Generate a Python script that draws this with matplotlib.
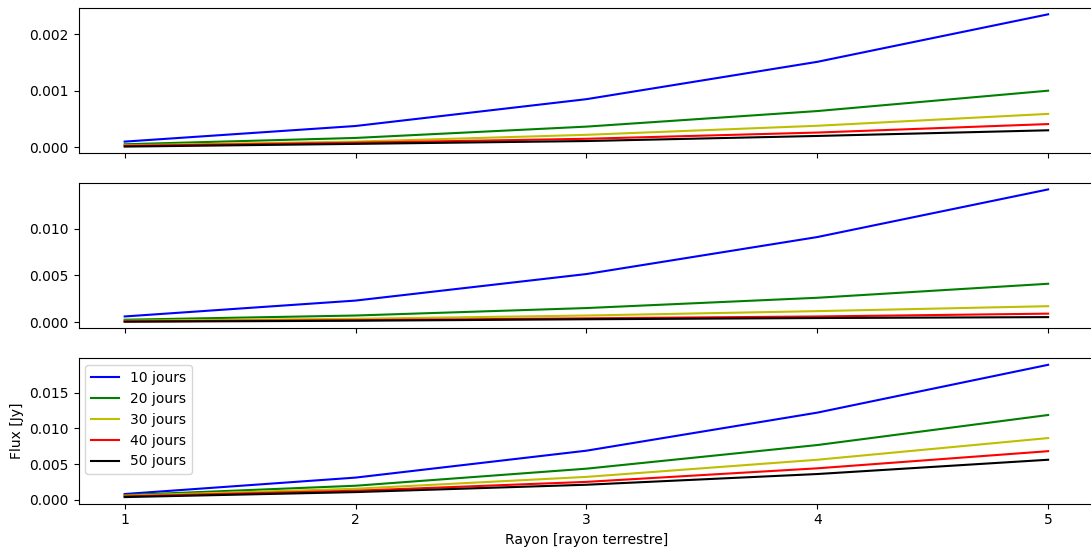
import matplotlib
matplotlib.use("Agg")
import matplotlib.pyplot as plt

rayon = [1, 2, 3, 4, 5]
labels = ["10 jours", "20 jours", "30 jours", "40 jours", "50 jours"]
colors = ["b", "g", "y", "r", "k"]

# panel 1
p1_10 = [0.000100, 0.000376, 0.00085, 0.00151, 0.00235]
p1_20 = [0.000053, 0.000165, 0.000365, 0.00064, 0.00100]
p1_30 = [0.000035, 0.000100, 0.00022, 0.00038, 0.00059]
p1_40 = [0.000025, 0.000080, 0.00015, 0.00026, 0.00041]
p1_50 = [0.000012, 0.000060, 0.00011, 0.00020, 0.00030]

# panel 2
p2_10 = [0.00060, 0.00230, 0.00514, 0.00910, 0.01420]
p2_20 = [0.00025, 0.00070, 0.00150, 0.00260, 0.00410]
p2_30 = [0.00014, 0.00035, 0.00070, 0.00117, 0.00170]
p2_40 = [0.00007, 0.00020, 0.00040, 0.00060, 0.00090]
p2_50 = [0.00004, 0.00014, 0.00030, 0.00043, 0.00053]

# panel 3
p3_10 = [0.00080, 0.00310, 0.00687, 0.01220, 0.01890]
p3_20 = [0.00065, 0.00196, 0.00435, 0.00766, 0.01187]
p3_30 = [0.00056, 0.00154, 0.00320, 0.00560, 0.00864]
p3_40 = [0.00047, 0.00126, 0.00250, 0.00440, 0.00680]
p3_50 = [0.00037, 0.00107, 0.00210, 0.00360, 0.00560]

panels = [
    [p1_10, p1_20, p1_30, p1_40, p1_50],
    [p2_10, p2_20, p2_30, p2_40, p2_50],
    [p3_10, p3_20, p3_30, p3_40, p3_50],
]

fig = plt.figure(figsize=(10.91, 5.5), dpi=100)
left = 78.5 / 1091
width = (1094.3 - 78.5) / 1091
h = 145.5 / 550
bottoms = [1 - 153.2 / 550, 1 - 328.3 / 550, 1 - 503.7 / 550]

axes = []
for i, b in enumerate(bottoms):
    ax = fig.add_axes([left, b, width, h], sharex=axes[0] if axes else None)
    axes.append(ax)
    for series, c, lab in zip(panels[i], colors, labels):
        ax.plot(rayon, series, color=c, label=lab, linewidth=1.5)
    if i < 2:
        ax.tick_params(labelbottom=False)

axes[0].set_xlim(0.8, 5.2)
axes[0].set_xticks(rayon)
axes[2].legend(loc="upper left")
axes[2].set_ylabel("Flux [Jy]")
axes[2].set_xlabel("Rayon [rayon terrestre]")

fig.savefig("out.png", dpi=100)
